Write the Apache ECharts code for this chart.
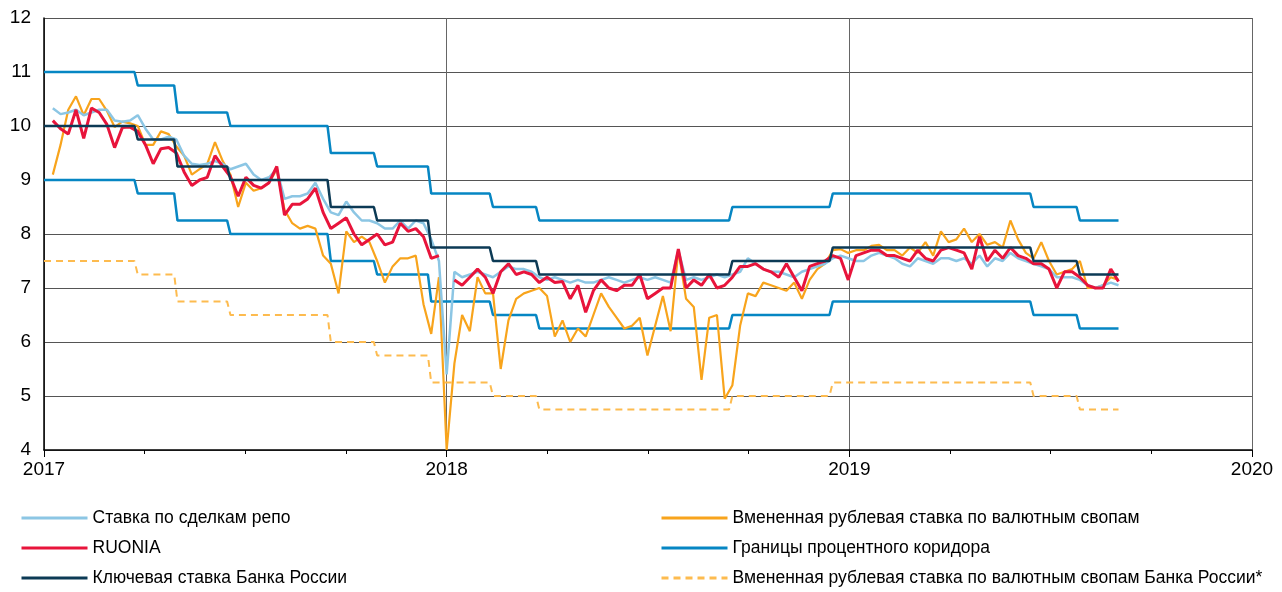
<!DOCTYPE html>
<html>
<head>
<meta charset="utf-8">
<script src="https://cdn.jsdelivr.net/npm/echarts@6/dist/echarts.min.js"></script>
<style>
  html, body { margin: 0; padding: 0; background: #fff; }
  #chart { width: 1282px; height: 592px; }
</style>
</head>
<body>
<div id="chart"></div>
<script>
// weekly observations, first point = week of 9 Jan 2017
const weekStart = '2017-01-09'
const repoRate = [
  10.33, 10.22, 10.25, 10.3, 10.2, 10.25, 10.3, 10.3, 10.1, 10.08, 10.1, 10.2, 9.95, 9.75, 9.75, 9.8, 9.75, 9.45, 9.3, 9.28, 9.3, 9.35,
  9.3, 9.2, 9.25, 9.3, 9.1, 9.0, 9.05, 9.2, 8.65, 8.7, 8.7, 8.75, 8.95, 8.65, 8.4, 8.35, 8.6, 8.4, 8.25, 8.25, 8.2, 8.1,
  8.1, 8.25, 8.1, 8.25, 8.2, 7.9, 7.5, 5.4, 7.3, 7.2, 7.25, 7.3, 7.25, 7.2, 7.3, 7.4, 7.35, 7.35, 7.3, 7.2, 7.15,
  7.2, 7.15, 7.1, 7.15, 7.1, 7.1, 7.15, 7.2, 7.15, 7.1, 7.15, 7.2, 7.15, 7.2, 7.15, 7.1, 7.7, 7.15, 7.2, 7.15, 7.2, 7.25, 7.2,
  7.25, 7.3, 7.55, 7.45, 7.35, 7.3, 7.3, 7.25, 7.2, 7.3, 7.35, 7.4, 7.45, 7.55, 7.6, 7.55, 7.5, 7.5, 7.6, 7.65, 7.6,
  7.55, 7.45, 7.4, 7.55, 7.5, 7.45, 7.55, 7.55, 7.5, 7.55, 7.45, 7.6, 7.4, 7.55, 7.5, 7.65, 7.55, 7.5, 7.45, 7.4, 7.35, 7.2, 7.2, 7.2, 7.15, 7.05, 7.0, 7.05, 7.1, 7.05
]
const ruonia = [
  10.1, 9.95, 9.85, 10.3, 9.77, 10.33, 10.25, 10.03, 9.6, 9.97, 9.98, 9.9, 9.65, 9.3, 9.58, 9.6, 9.5, 9.15, 8.9, 9.0, 9.05, 9.45,
  9.25, 9.06, 8.7, 9.05, 8.9, 8.85, 8.95, 9.25, 8.35, 8.55, 8.55, 8.65, 8.85, 8.4, 8.1, 8.2, 8.3, 8.0, 7.8, 7.9, 8.0, 7.8,
  7.85, 8.2, 8.05, 8.1, 7.95, 7.55, 7.6, null, 7.15, 7.05, 7.2, 7.35, 7.2, 6.9, 7.3, 7.45, 7.25, 7.3, 7.25, 7.1, 7.2,
  7.1, 7.12, 6.8, 7.05, 6.55, 6.95, 7.15, 7.0, 6.95, 7.05, 7.05, 7.25, 6.8, 6.9, 7.0, 7.0, 7.72, 7.0, 7.15, 7.05, 7.25, 7.0, 7.05,
  7.2, 7.4, 7.4, 7.45, 7.35, 7.3, 7.2, 7.45, 7.2, 6.95, 7.4, 7.45, 7.5, 7.6, 7.55, 7.15, 7.6, 7.65, 7.7, 7.7, 7.6,
  7.6, 7.55, 7.5, 7.7, 7.55, 7.5, 7.7, 7.75, 7.7, 7.65, 7.35, 7.95, 7.5, 7.7, 7.55, 7.75, 7.6, 7.55, 7.45, 7.45, 7.35, 7.0, 7.3, 7.3, 7.2, 7.05, 7.0, 7.0, 7.35, 7.12
]
const swapRate = [
  9.1, 9.65, 10.3, 10.55, 10.2, 10.5, 10.5, 10.28, 9.98, 10.08, 10.05, 10.0, 9.65, 9.65, 9.9, 9.85, 9.62, 9.45, 9.1, 9.2, 9.3, 9.7,
  9.35, 9.1, 8.5, 8.95, 8.8, 8.85, 8.95, 9.2, 8.45, 8.2, 8.1, 8.15, 8.1, 7.6, 7.45, 6.9, 8.05, 7.85, 7.95, 7.85, 7.5, 7.1,
  7.4, 7.55, 7.55, 7.6, 6.7, 6.15, 7.2, 4.0, 5.6, 6.5, 6.2, 7.2, 6.9, 6.9, 5.5, 6.4, 6.8, 6.9, 6.95, 7.0, 6.85,
  6.1, 6.4, 6.0, 6.25, 6.1, 6.5, 6.9, 6.65, 6.45, 6.25, 6.3, 6.45, 5.75, 6.3, 6.85, 6.2, 7.7, 6.8, 6.65, 5.3, 6.45, 6.5, 4.95,
  5.2, 6.3, 6.9, 6.85, 7.1, 7.05, 7.0, 6.95, 7.1, 6.8, 7.15, 7.35, 7.45, 7.7, 7.72, 7.65, 7.7, 7.7, 7.78, 7.8, 7.7,
  7.7, 7.6, 7.75, 7.65, 7.85, 7.6, 8.05, 7.85, 7.9, 8.1, 7.85, 8.0, 7.8, 7.85, 7.75, 8.25, 7.9, 7.65, 7.55, 7.85, 7.5, 7.25, 7.3, 7.35, 7.5, 7.0, 7.0, 7.05, 7.2, 7.15
]

// policy decisions; last date closes the period
const stepDates = ['2017-01-01', '2017-03-27', '2017-05-02', '2017-06-19', '2017-09-18', '2017-10-30', '2017-12-18',
  '2018-02-12', '2018-03-26', '2018-09-17', '2018-12-17', '2019-06-17', '2019-07-29', '2019-09-02']
const keyRate = [10, 9.75, 9.25, 9, 8.5, 8.25, 7.75, 7.5, 7.25, 7.5, 7.75, 7.5, 7.25]
const corridorUpper = [11, 10.75, 10.25, 10, 9.5, 9.25, 8.75, 8.5, 8.25, 8.5, 8.75, 8.5, 8.25]
const corridorLower = [9, 8.75, 8.25, 8, 7.5, 7.25, 6.75, 6.5, 6.25, 6.5, 6.75, 6.5, 6.25]
const cbrSwapRate = [7.5, 7.25, 6.75, 6.5, 6, 5.75, 5.25, 5, 4.75, 5, 5.25, 5, 4.75]

const yearLabels = ['2017', '2018', '2019', '2020']

const names = {
  repo: 'Ставка по сделкам репо',
  ruonia: 'RUONIA',
  key: 'Ключевая ставка Банка России',
  swap: 'Вмененная рублевая ставка по валютным свопам',
  corridor: 'Границы процентного коридора',
  cbrSwap: 'Вмененная рублевая ставка по валютным свопам Банка России*'
}

const DAY = 86400000
const origin = Date.parse('2017-01-01')
const dayOf = d => (Date.parse(d) - origin) / DAY

function weekly(values) {
  const d0 = dayOf(weekStart)
  return values.map((v, i) => [d0 + 7 * i, v === null ? '-' : v])
}

// step line, each change takes a few days to show up
function steps(values) {
  const out = [[dayOf(stepDates[0]), values[0]]]
  for (let k = 1; k < values.length; k++) {
    const d = dayOf(stepDates[k])
    out.push([d - 3, values[k - 1]], [d, values[k]])
  }
  out.push([dayOf(stepDates[stepDates.length - 1]), values[values.length - 1]])
  return out
}

function line(name, data, color, width, type) {
  return {
    name: name,
    type: 'line',
    data: data,
    symbol: 'none',
    lineStyle: { color: color, width: width, type: type || 'solid' },
    itemStyle: { color: color }
  }
}

const font = '"Liberation Sans", Arial, sans-serif'

// one legend per entry: two columns of three rows
function legendItem(name, left, top) {
  return {
    data: [name],
    left: left,
    top: top,
    padding: 0,
    itemWidth: 66,
    itemHeight: 12,
    itemStyle: { opacity: 0 },
    lineStyle: { width: 3 },
    textStyle: { color: '#000', fontSize: 17.5, fontFamily: font, lineHeight: 20 }
  }
}

const myChart = echarts.init(document.getElementById('chart'))

const option = {
  animation: false,
  grid: { left: 44, right: 30, top: 18, bottom: 142 },
  legend: [
    legendItem(names.repo, 20, 508),
    legendItem(names.ruonia, 20, 538),
    legendItem(names.key, 20, 568),
    legendItem(names.swap, 660, 508),
    legendItem(names.corridor, 660, 538),
    legendItem(names.cbrSwap, 660, 568)
  ],
  xAxis: {
    type: 'value',
    min: 0,
    max: 1095,
    interval: 365,
    axisLine: { lineStyle: { color: '#000', width: 1.5 } },
    axisTick: { length: 7, lineStyle: { color: '#000' } },
    minorTick: { show: true, splitNumber: 4, length: 4, lineStyle: { color: '#000' } },
    splitLine: { show: true, lineStyle: { color: '#666', width: 1 } },
    axisLabel: {
      color: '#000', fontSize: 19, fontFamily: font, margin: 10,
      formatter: v => yearLabels[Math.round(v / 365)]
    }
  },
  yAxis: {
    type: 'value',
    min: 4,
    max: 12,
    interval: 1,
    axisLine: { show: true, lineStyle: { color: '#000', width: 1.5 } },
    axisTick: { show: false },
    splitLine: { show: true, lineStyle: { color: '#555', width: 1 } },
    axisLabel: { color: '#000', fontSize: 19, fontFamily: font, margin: 13 }
  },
  series: [
    line(names.corridor, steps(corridorUpper), '#0686c3', 2.5),
    line(names.corridor, steps(corridorLower), '#0686c3', 2.5),
    line(names.cbrSwap, steps(cbrSwapRate), '#fdbb4f', 2, [7, 5]),
    line(names.swap, weekly(swapRate), '#f8a41c', 2.2),
    line(names.repo, weekly(repoRate), '#8cc6e4', 2.5),
    line(names.ruonia, weekly(ruonia), '#e8143b', 3),
    line(names.key, steps(keyRate), '#0c3a55', 2.5)
  ]
}
myChart.setOption(option)
</script>
</body>
</html>
